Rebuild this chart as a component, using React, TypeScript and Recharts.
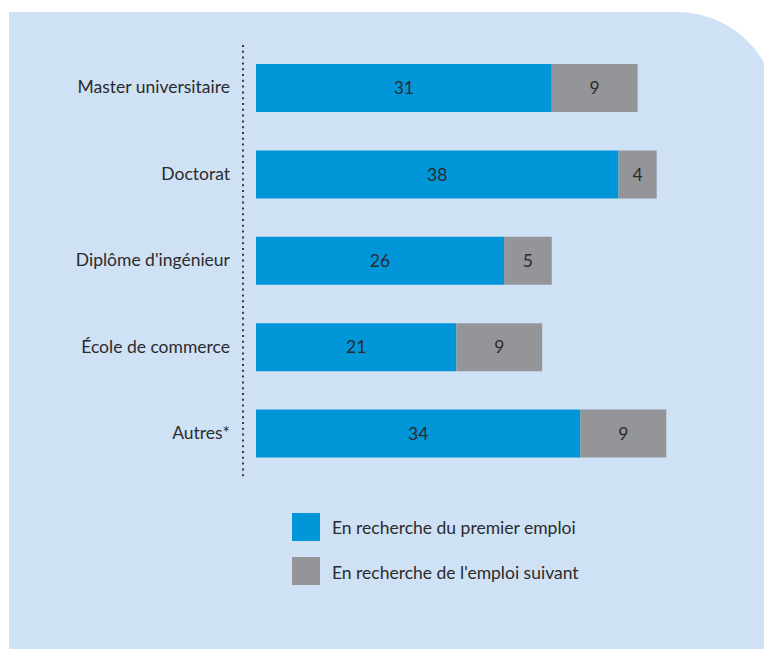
import { BarChart, Bar, XAxis, YAxis, LabelList } from 'recharts';

const categories = [
  'Master universitaire',
  'Doctorat',
  "Diplôme d'ingénieur",
  'École de commerce',
  'Autres*',
];
const premierEmploi = [31, 38, 26, 21, 34];
const emploiSuivant = [9, 4, 5, 9, 9];

const seriesNames = ['En recherche du premier emploi', "En recherche de l'emploi suivant"];
const seriesColors = ['#0096d7', '#939598'];

const FONT = 'Lato, "DejaVu Sans", sans-serif';
const TEXT = '#2b2b2d';

const data = categories.map((name, i) => ({
  name,
  premier: premierEmploi[i],
  suivant: emploiSuivant[i],
}));

const App = () => {
  return (
    <div
      style={{
        position: 'absolute',
        left: 0,
        top: 0,
        width: 764,
        height: 649,
        overflow: 'hidden',
        background: '#ffffff',
        fontFamily: FONT,
      }}
    >
      <div
        style={{
          position: 'absolute',
          left: 9,
          top: 12,
          width: 768,
          height: 640,
          background: '#cfe1f4',
          borderTopRightRadius: 100,
        }}
      />
      <div style={{ position: 'absolute', left: 0, top: 0 }}>
        <BarChart
          width={764}
          height={520}
          data={data}
          layout="vertical"
          margin={{ top: 45, right: 31, bottom: 43, left: 0 }}
        >
          <XAxis type="number" hide domain={[0, 50]} padding={{ left: 13, right: 0 }} />
          <YAxis
            type="category"
            dataKey="name"
            width={243}
            tickLine={false}
            tickMargin={7}
            axisLine={{ stroke: '#3a3a3c', strokeWidth: 2, strokeDasharray: '2 3.8' }}
            tick={{ fill: TEXT, fontSize: 17.5, fontFamily: FONT, dy: -1 }}
          />
          <Bar dataKey="premier" stackId="a" fill={seriesColors[0]} barSize={48} isAnimationActive={false}>
            <LabelList dataKey="premier" position="center" fill={TEXT} fontSize={17.5} fontFamily={FONT} />
          </Bar>
          <Bar dataKey="suivant" stackId="a" fill={seriesColors[1]} barSize={48} isAnimationActive={false}>
            <LabelList dataKey="suivant" position="center" fill={TEXT} fontSize={17.5} fontFamily={FONT} />
          </Bar>
        </BarChart>
      </div>
      {seriesNames.map((label, i) => (
        <div
          key={label}
          style={{
            position: 'absolute',
            left: 292,
            top: 513 + i * 44,
            height: 28,
            display: 'flex',
            alignItems: 'center',
          }}
        >
          <div style={{ width: 28, height: 28, background: seriesColors[i] }} />
          <span style={{ marginLeft: 12, fontSize: 17.5, color: TEXT, position: 'relative', top: i }}>{label}</span>
        </div>
      ))}
    </div>
  );
};

export default App;
